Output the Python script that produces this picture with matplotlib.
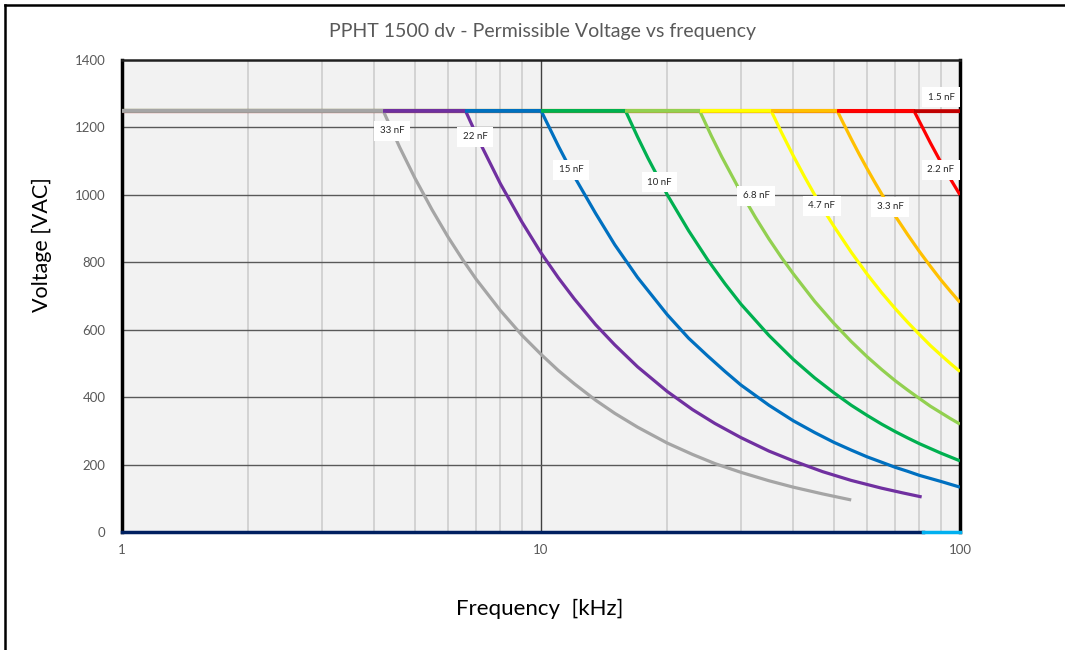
import matplotlib
matplotlib.use("Agg")
import matplotlib.pyplot as plt
from matplotlib.lines import Line2D

plt.rcParams['font.family'] = ['Lato', 'DejaVu Sans']

# ---- data ----
f_33 = [1, 4.2, 4.6, 5, 5.5, 6, 6.5, 7, 8, 9, 10, 11, 12, 13.5, 15, 17, 20, 23, 26, 30, 35, 40, 47, 55]
v_33 = [1250, 1250, 1141, 1050, 955, 875, 808, 750, 657, 584, 527, 479, 440, 391, 352, 311, 264,
        230, 203, 177, 152, 133, 113, 95]

f_22 = [1, 6.6, 7.2, 8, 9, 10, 11, 12, 13.5, 15, 17, 20, 23, 26, 30, 35, 40, 47, 55, 65, 73, 81]
v_22 = [1250, 1250, 1147, 1033, 920, 828, 754, 692, 615, 555, 490, 417, 363, 322, 280, 240, 211,
        179, 153, 130, 116, 104]

f_15 = [1, 10, 11, 12, 13.5, 15, 17, 20, 22.5, 25, 27.5, 30, 35, 40, 45, 50, 55, 60, 65, 70, 75,
        80, 90, 100]
v_15 = [1250, 1250, 1145, 1055, 945, 852, 755, 645, 575, 522, 476, 436, 376, 330, 295, 266, 243,
        223, 207, 192, 180, 168, 150, 133]

f_10 = [1, 15.9, 17, 18, 20, 22.5, 25, 27.5, 30, 35, 40, 45, 50, 55, 60, 65, 70, 75, 80, 90, 100]
v_10 = [1250, 1250, 1172, 1109, 1001, 894, 807, 736, 676, 583, 512, 457, 413, 376, 346, 320, 298,
        279, 262, 234, 211]

f_68 = [1, 23.9, 25.5, 27, 30, 32.5, 35, 37.5, 40, 45, 50, 55, 60, 65, 70, 75, 80, 85, 90, 95, 100]
v_68 = [1250, 1250, 1175, 1113, 1007, 933, 869, 814, 766, 684, 619, 565, 520, 482, 449, 421, 396,
        373, 354, 336, 320]

f_47 = [1, 35.4, 37.5, 40, 42.5, 45, 47.5, 50, 55, 60, 65, 70, 75, 80, 85, 90, 95, 100]
v_47 = [1250, 1250, 1185, 1116, 1055, 1000, 951, 907, 830, 765, 710, 663, 622, 586, 553, 525, 499, 476]

f_33n = [1, 50.9, 52.5, 55, 57.5, 60, 62.5, 65, 67.5, 70, 75, 80, 85, 90, 95, 100]
v_33n = [1250, 1250, 1216, 1166, 1120, 1078, 1039, 1003, 970, 938, 882, 832, 788, 748, 713, 681]

f_22n = [1, 77.6, 85, 90, 95, 100]
v_22n = [1250, 1250, 1154, 1097, 1046, 1000]

f_15n = [1, 100]
v_15n = [1250, 1250]

f_zero_a = [1, 81.5]
v_zero_a = [0, 0]
f_zero_b = [81.5, 100]
v_zero_b = [0, 0]

series_names = ['1.5 nF', '2.2 nF', '3.3 nF', '4.7 nF', '6.8 nF', '10 nF', '15 nF', '22 nF', '33 nF']
series_f = [f_15n, f_22n, f_33n, f_47, f_68, f_10, f_15, f_22, f_33]
series_v = [v_15n, v_22n, v_33n, v_47, v_68, v_10, v_15, v_22, v_33]
series_colors = ['#C00000', '#FF0000', '#FFC000', '#FFFF00', '#92D050',
                 '#00B050', '#0070C0', '#7030A0', '#A5A5A5']

# label anchor positions (frequency, voltage)
label_f = [90.1, 90.1, 68.1, 46.8, 32.6, 19.2, 11.8, 6.96, 4.41]
label_v = [1290, 1074, 964, 967, 997, 1038, 1074, 1172, 1190]

title = 'PPHT 1500 dv - Permissible Voltage vs frequency'
xlabel = 'Frequency  [kHz]'
ylabel = 'Voltage [VAC]'
yticks = [0, 200, 400, 600, 800, 1000, 1200, 1400]
xticks = [1, 10, 100]
xminor = [2, 3, 4, 5, 6, 7, 8, 9, 20, 30, 40, 50, 60, 70, 80, 90]

fig = plt.figure(figsize=(10.65, 6.5), dpi=100)
ax = fig.add_axes([122 / 1065, 1 - 532 / 650, (960 - 122) / 1065, (532 - 60) / 650])
ax.set_facecolor('#F2F2F2')
ax.set_xscale('log')
ax.set_xlim(1, 100)
ax.set_ylim(0, 1400)

# grid
for xm in xminor:
    ax.axvline(xm, color='#D0D0D0', lw=1.3, zorder=1)
ax.axvline(10, color='#404040', lw=1.0, zorder=1.5)
for yt in yticks[1:-1]:
    ax.axhline(yt, color='#595959', lw=1.0, zorder=1.5)

ax.plot(f_zero_a, v_zero_a, color='#002060', lw=2.5, zorder=3, clip_on=False)
ax.plot(f_zero_b, v_zero_b, color='#00B0F0', lw=2.5, zorder=3, clip_on=False)

for i, (fx, vy, c) in enumerate(zip(series_f, series_v, series_colors)):
    ax.plot(fx, vy, color=c, lw=2.3, zorder=3 + i * 0.1, solid_capstyle='butt')

# visible parts of the shared plateau, each in the colour of the series drawn on top
start = series_f[-1][0]
for fx, vy, c in reversed(list(zip(series_f, series_v, series_colors))):
    ax.plot([start, fx[1]], [vy[0], vy[1]], color=c, lw=2.6, zorder=4,
            solid_capstyle='butt')
    start = fx[1]

for name, lf, lv in zip(series_names, label_f, label_v):
    ax.text(lf, lv, name, fontsize=7, color='#262626', ha='center', va='center', zorder=5,
            bbox=dict(boxstyle='square,pad=0.55', fc='white', ec='none'))

ax.set_xticks(xticks)
ax.set_xticklabels([str(t) for t in xticks])
ax.set_xticks([], minor=True)
ax.set_yticks(yticks)
ax.set_yticklabels([str(t) for t in yticks])
ax.tick_params(axis='both', length=0, labelsize=9.5, labelcolor='#595959')
ax.tick_params(axis='x', pad=9)
ax.tick_params(axis='y', pad=12)

for side in ['left', 'right']:
    ax.spines[side].set_linewidth(2.5)
    ax.spines[side].set_color('black')
ax.spines['top'].set_linewidth(1.8)
ax.spines['top'].set_color('#202020')
ax.spines['bottom'].set_visible(False)

fig.text(0.509, 1 - 31 / 650, title, ha='center', va='center', fontsize=14, color='#595959')
fig.text(0.507, 1 - 609 / 650, xlabel, ha='center', va='center', fontsize=16, color='black')
fig.text(42 / 1065, 1 - 245 / 650, ylabel, ha='center', va='center', fontsize=15.5, color='black',
         rotation=90)

# outer chart border (top and left edges visible)
fig.add_artist(Line2D([5 / 1065, 5 / 1065], [0, 1 - 5 / 650], transform=fig.transFigure,
                      color='black', lw=1.8))
fig.add_artist(Line2D([5 / 1065, 1], [1 - 5 / 650, 1 - 5 / 650], transform=fig.transFigure,
                      color='black', lw=1.8))

fig.savefig('out.png', dpi=100)
